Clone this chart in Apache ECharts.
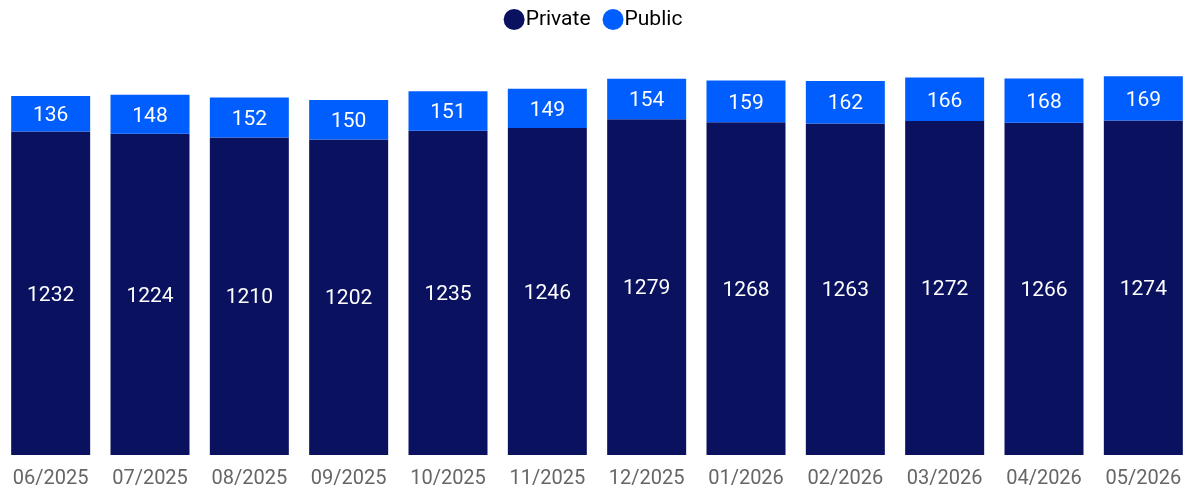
<!DOCTYPE html>
<html>
<head>
<meta charset="utf-8">
<script src="https://cdn.jsdelivr.net/npm/echarts@6/dist/echarts.min.js"></script>
<style>
  html, body { margin: 0; padding: 0; background: #fff; }
  #chart { width: 1186px; height: 491px; }
</style>
</head>
<body>
<div id="chart"></div>
<script>
  // months on the x axis
  var months = ['06/2025', '07/2025', '08/2025', '09/2025', '10/2025', '11/2025',
    '12/2025', '01/2026', '02/2026', '03/2026', '04/2026', '05/2026'];
  var privateValues = [1232, 1224, 1210, 1202, 1235, 1246, 1279, 1268, 1263, 1272, 1266, 1274];
  var publicValues = [136, 148, 152, 150, 151, 149, 154, 159, 162, 166, 168, 169];

  var chart = echarts.init(document.getElementById('chart'));

  var barLabel = {
    show: true,
    position: 'inside',
    offset: [0, 2],
    color: '#fff',
    fontSize: 21,
    fontFamily: 'Roboto'
  };

  chart.setOption({
    animation: false,
    textStyle: { fontFamily: 'Roboto' },
    legend: {
      top: 4,
      left: 'center',
      icon: 'circle',
      itemWidth: 21,
      itemHeight: 21,
      itemGap: 12,
      textStyle: { fontSize: 21, color: '#000', padding: [0, 0, 0, -4] },
      data: ['Private', 'Public']
    },
    grid: {
      left: 1,
      width: 1192,
      top: 35,
      bottom: 36,
      containLabel: false,
      outerBoundsMode: 'none'
    },
    xAxis: {
      type: 'category',
      data: months,
      axisLine: { show: false },
      axisTick: { show: false },
      axisLabel: { color: '#666', fontSize: 20, margin: 14, interval: 0 }
    },
    yAxis: {
      type: 'value',
      min: 0,
      max: 1600,
      show: false,
      splitLine: { show: false }
    },
    series: [
      {
        name: 'Private',
        type: 'bar',
        stack: 'total',
        barWidth: 79,
        itemStyle: { color: '#0a1260' },
        label: barLabel,
        data: privateValues
      },
      {
        name: 'Public',
        type: 'bar',
        stack: 'total',
        barWidth: 79,
        itemStyle: { color: '#005eff' },
        label: barLabel,
        data: publicValues
      }
    ]
  });
</script>
</body>
</html>
